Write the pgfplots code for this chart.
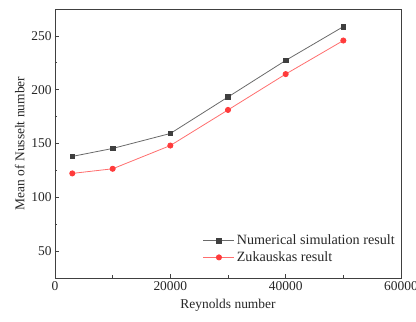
\documentclass[border=0pt]{standalone}
\usepackage{pgfplots}
\pgfplotsset{compat=1.18}
\usepackage{fontspec}
\setmainfont{Liberation Serif}
\definecolor{simgray}{HTML}{3F3F3F}
\definecolor{simline}{HTML}{6A6A6A}
\definecolor{zukred}{HTML}{FF3B3B}
\definecolor{zukline}{HTML}{FF6E6E}
\begin{document}
\begin{tikzpicture}[x=1bp,y=1bp]
\begin{axis}[
  scale only axis,
  width=346bp, height=269bp,
  xmin=0, xmax=60000, ymin=25, ymax=275,
  xtick={0,20000,40000,60000},
  ytick={50,100,150,200,250},
  minor x tick num=1, minor y tick num=1,
  tick pos=left,
  tick align=inside,
  major tick length=4bp, minor tick length=2.5bp,
  axis line style={draw=black!75, line width=0.8bp},
  every tick/.style={black!75, line width=0.7bp},
  scaled x ticks=false,
  xticklabel style={/pgf/number format/1000 sep={}},
  /pgf/number format/assume math mode=true,
  tick label style={font=\fontsize{13.5}{16}\selectfont, text=black!85},
  label style={font=\fontsize{13.5}{16}\selectfont, text=black!85},
  xlabel={Reynolds number},
  ylabel={Mean of Nusselt number},
  xlabel style={yshift=-2bp},
  ylabel style={yshift=0bp},
  legend style={draw=none, fill=none, at={(0.997,0.04)}, anchor=south east,
    font=\fontsize{14.2}{16}\selectfont, text=black!85,
    row sep=1.5bp, /tikz/every even column/.append style={column sep=2bp}},
  legend cell align=left,
  legend image code/.code={%
    \draw[mark repeat=2, mark phase=2] plot coordinates {(0bp,0bp) (15.5bp,0bp) (31bp,0bp)};},
]
\addplot[simline, line width=0.8bp, mark=square*, mark size=2.3bp,
  mark options={fill=simgray, draw=simgray}]
  coordinates {(3000,138.0) (10000,145.4) (20000,159.3) (30000,193.2) (40000,227.2) (50000,258.6)};
\addlegendentry{Numerical simulation result}
\addplot[zukline, line width=0.8bp, mark=*, mark size=2.6bp,
  mark options={fill=zukred, draw=zukred}]
  coordinates {(3000,122.2) (10000,126.5) (20000,148.1) (30000,181.2) (40000,214.5) (50000,245.7)};
\addlegendentry{Zukauskas result}
\end{axis}
\pgfresetboundingbox
\path ([xshift=-55bp,yshift=-44bp]current axis.south west) rectangle ([xshift=15bp,yshift=9bp]current axis.north east);
\end{tikzpicture}
\end{document}
